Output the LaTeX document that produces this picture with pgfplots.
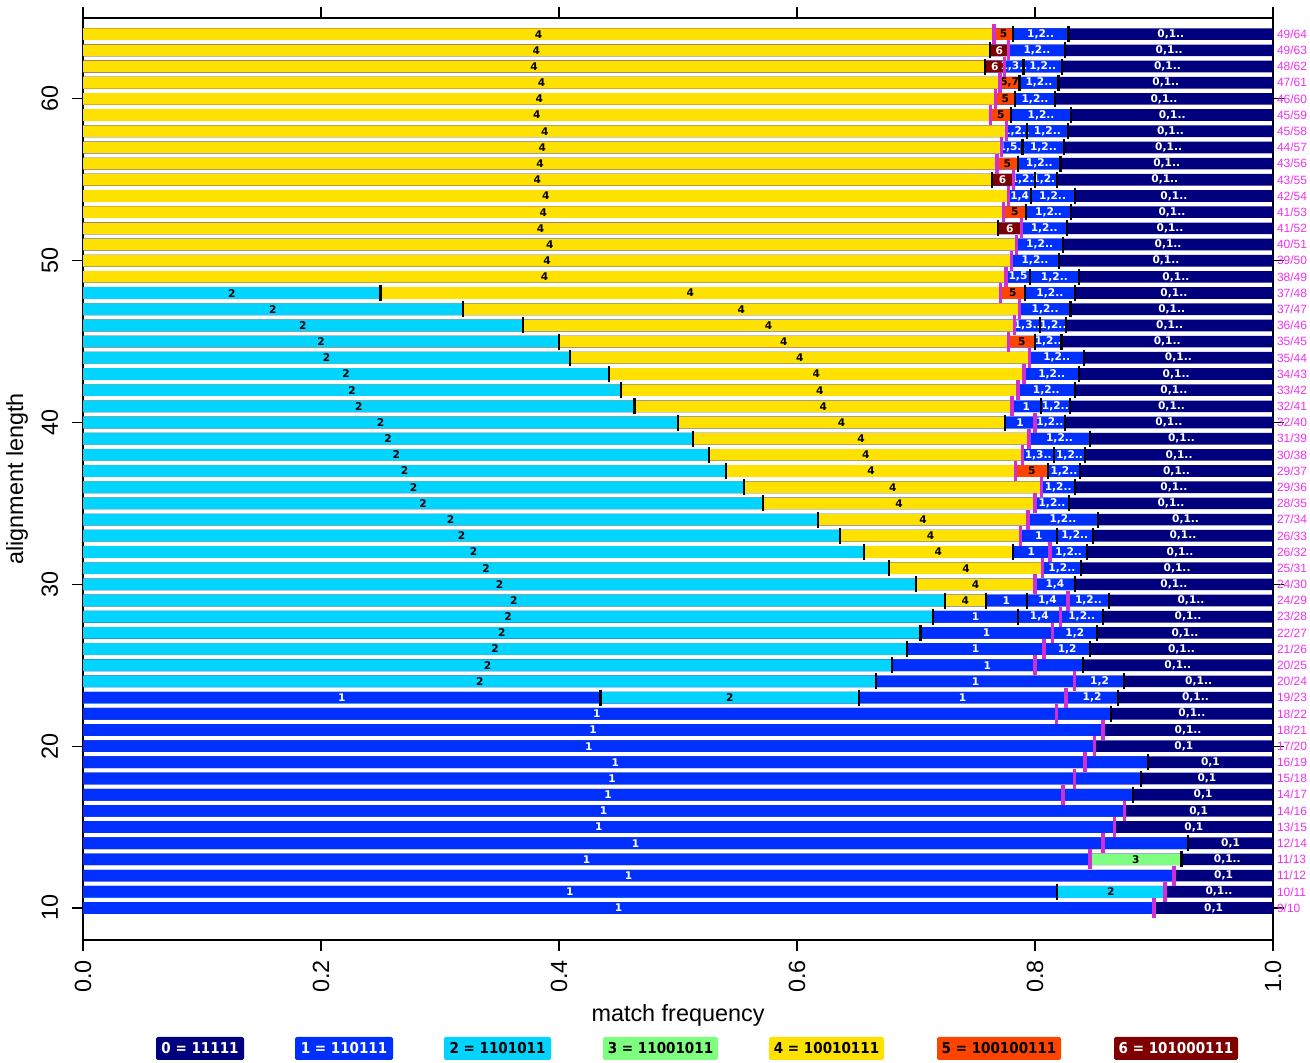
\documentclass[border=0pt]{standalone}
\usepackage{fontspec}
\setmainfont{Liberation Sans}
\newfontfamily\djb{DejaVu Sans}
\newfontfamily\djc[FakeStretch=0.9]{DejaVu Sans}
\usepackage{pgfplots}
\pgfplotsset{compat=1.18}
\definecolor{cN}{HTML}{00007F}
\definecolor{cB}{HTML}{0030FF}
\definecolor{cC}{HTML}{00D4FF}
\definecolor{cG}{HTML}{7FFF7F}
\definecolor{cY}{HTML}{FFE100}
\definecolor{cO}{HTML}{FF4400}
\definecolor{cD}{HTML}{7F0000}
\definecolor{cM}{HTML}{D22FD2}
\definecolor{cL}{HTML}{F030F0}
\pgfplotsset{
 seg/.style={xbar, bar width=0.72, bar shift=0pt, draw=none, fill=#1},
 lab/.style={draw=none, mark=none, nodes near coords, point meta=explicit symbolic,
   nodes near coords align={anchor=center},
   every node near coord/.append style={font=\djb\bfseries\fontsize{5.3}{6}\selectfont, text=#1, inner sep=0pt}},
}
\begin{document}
\begin{tikzpicture}
\path[use as bounding box] (-41.5pt,-61.5pt) rectangle (613.5pt,470pt);
\begin{axis}[
 scale only axis, width=595pt, height=461pt,
 xmin=0, xmax=1, ymin=8.02, ymax=65.0,
 clip=false,
 axis line style={line width=1pt},
 tick style={line width=0.6pt, black},
 tick align=outside, major tick length=5.3pt,
 xtick={0,0.2,0.4,0.6,0.8,1},
 xticklabels={0.0,0.2,0.4,0.6,0.8,1.0},
 ytick={10,20,30,40,50,60},
 yticklabels={10,20,30,40,50,60},
 xticklabel style={rotate=90, anchor=east, inner xsep=4.5pt, font=\fontsize{11.7}{14}\selectfont},
 yticklabel style={rotate=90, anchor=south, inner ysep=7pt, font=\fontsize{11.7}{14}\selectfont},
 xlabel={match frequency}, ylabel={alignment length},
 xlabel style={at={(axis description cs:0.5,-0.0813)}, anchor=center, font=\fontsize{11.7}{14}\selectfont},
 ylabel style={at={(axis description cs:-0.0555,0.5)}, anchor=center, font=\fontsize{11.7}{14}\selectfont},
]
% ---- bars (drawn longest first in each row) ----
\addplot[seg=cN] coordinates {(1,10) (1,11) (1,12) (1,13) (1,14) (1,15) (1,16) (1,17) (1,18) (1,19) (1,20) (1,21) (1,22) (1,23) (1,24) (1,25) (1,26) (1,27) (1,28) (1,29) (1,30) (1,31) (1,32) (1,33) (1,34) (1,35) (1,36) (1,37) (1,38) (1,39) (1,40) (1,41) (1,42) (1,43) (1,44) (1,45) (1,46) (1,47) (1,48) (1,49) (1,50) (1,51) (1,52) (1,53) (1,54) (1,55) (1,56) (1,57) (1,58) (1,59) (1,60) (1,61) (1,62) (1,63) (1,64)};
\addplot[seg=cG] coordinates {(0.9231,13)};
\addplot[seg=cC] coordinates {(0.9091,11)};
\addplot[seg=cB] coordinates {(0.8281,64) (0.8254,63) (0.8226,62) (0.8197,61) (0.8167,60) (0.8305,59) (0.8276,58) (0.8246,57) (0.8214,56) (0.8182,55) (0.8333,54) (0.8302,53) (0.8269,52) (0.8235,51) (0.82,50) (0.8367,49) (0.8333,48) (0.8298,47) (0.8261,46) (0.8222,45) (0.8409,44) (0.8372,43) (0.8333,42) (0.8293,41) (0.825,40) (0.8462,39) (0.8421,38) (0.8378,37) (0.8333,36) (0.8286,35) (0.8529,34) (0.8485,33) (0.8438,32) (0.8387,31) (0.8333,30) (0.8621,29) (0.8571,28) (0.8519,27) (0.8462,26) (0.84,25) (0.875,24) (0.8696,23) (0.8636,22) (0.8571,21) (0.85,20) (0.8947,19) (0.8889,18) (0.8824,17) (0.875,16) (0.8667,15) (0.9286,14) (0.8462,13) (0.9167,12) (0.8182,11) (0.9,10)};
\addplot[seg=cO] coordinates {(0.7813,64) (0.7869,61) (0.7833,60) (0.7797,59) (0.7857,56) (0.7925,53) (0.7917,48) (0.8,45) (0.8108,37)};
\addplot[seg=cD] coordinates {(0.7778,63) (0.7742,62) (0.7818,55) (0.7885,52)};
\addplot[seg=cY] coordinates {(0.7656,64) (0.7619,63) (0.7581,62) (0.7705,61) (0.7667,60) (0.7627,59) (0.7759,58) (0.7719,57) (0.7679,56) (0.7636,55) (0.7778,54) (0.7736,53) (0.7692,52) (0.7843,51) (0.78,50) (0.7755,49) (0.7708,48) (0.7872,47) (0.7826,46) (0.7778,45) (0.7955,44) (0.7907,43) (0.7857,42) (0.7805,41) (0.775,40) (0.7949,39) (0.7895,38) (0.7838,37) (0.8056,36) (0.8,35) (0.7941,34) (0.7879,33) (0.7813,32) (0.8065,31) (0.8,30) (0.7586,29)};
\addplot[seg=cC] coordinates {(0.25,48) (0.3191,47) (0.3696,46) (0.4,45) (0.4091,44) (0.4419,43) (0.4524,42) (0.4634,41) (0.5,40) (0.5128,39) (0.5263,38) (0.5405,37) (0.5556,36) (0.5714,35) (0.6176,34) (0.6364,33) (0.6563,32) (0.6774,31) (0.7,30) (0.7241,29) (0.7143,28) (0.7037,27) (0.6923,26) (0.68,25) (0.6667,24) (0.6522,23)};
\addplot[seg=cB] coordinates {(0.4348,23)};
% ---- segment labels ----
\addplot[lab=black] table[meta=l] {
x y l
0.3828 64 4
0.3810 63 4
0.3790 62 4
0.3853 61 4
0.3834 60 4
0.3814 59 4
0.3880 58 4
0.3860 57 4
0.3840 56 4
0.3818 55 4
0.3889 54 4
0.3868 53 4
0.3846 52 4
0.3922 51 4
0.3900 50 4
0.3878 49 4
0.5104 48 4
0.5532 47 4
0.5761 46 4
0.5889 45 4
0.6023 44 4
0.6163 43 4
0.6191 42 4
0.6220 41 4
0.6375 40 4
0.6539 39 4
0.6579 38 4
0.6622 37 4
0.6806 36 4
0.6857 35 4
0.7059 34 4
0.7122 33 4
0.7188 32 4
0.7420 31 4
0.7500 30 4
0.7414 29 4
0.1250 48 2
0.1596 47 2
0.1848 46 2
0.2000 45 2
0.2046 44 2
0.2210 43 2
0.2262 42 2
0.2317 41 2
0.2500 40 2
0.2564 39 2
0.2632 38 2
0.2703 37 2
0.2778 36 2
0.2857 35 2
0.3088 34 2
0.3182 33 2
0.3282 32 2
0.3387 31 2
0.3500 30 2
0.3621 29 2
0.3572 28 2
0.3519 27 2
0.3462 26 2
0.3400 25 2
0.3334 24 2
0.5435 23 2
0.8637 11 2
0.7735 64 5
0.7787 61 5,7
0.7750 60 5
0.7712 59 5
0.7768 56 5
0.7831 53 5
0.7813 48 5
0.7889 45 5
0.7973 37 5
0.8847 13 3
};
\addplot[lab=white] table[meta=l] {
x y l
0.7699 63 6
0.7662 62 6
0.7727 55 6
0.7789 52 6
0.8047 64 1,2..
0.8016 63 1,2..
0.7823 62 1,3..
0.8065 62 1,2..
0.8033 61 1,2..
0.8000 60 1,2..
0.8051 59 1,2..
0.7845 58 1,2..
0.8104 58 1,2..
0.7807 57 1,5..
0.8071 57 1,2..
0.8036 56 1,2..
0.7909 55 1,2..
0.8091 55 1,2..
0.7871 54 1,4
0.8148 54 1,2..
0.8114 53 1,2..
0.8077 52 1,2..
0.8039 51 1,2..
0.8000 50 1,2..
0.7857 49 1,5
0.8163 49 1,2..
0.8125 48 1,2..
0.8085 47 1,2..
0.7935 46 1,3..
0.8152 46 1,2..
0.8111 45 1,2..
0.8182 44 1,2..
0.8140 43 1,2..
0.8095 42 1,2..
0.7927 41 1
0.8171 41 1,2..
0.7875 40 1
0.8125 40 1,2..
0.8206 39 1,2..
0.8027 38 1,3..
0.8290 38 1,2..
0.8243 37 1,2..
0.8195 36 1,2..
0.8143 35 1,2..
0.8235 34 1,2..
0.8031 33 1
0.8334 33 1,2..
0.7969 32 1
0.8282 32 1,2..
0.8226 31 1,2..
0.8167 30 1,4
0.7759 29 1
0.8104 29 1,4
0.8449 29 1,2..
0.7500 28 1
0.8036 28 1,4
0.8393 28 1,2..
0.7593 27 1
0.8334 27 1,2
0.7500 26 1
0.8270 26 1,2
0.7600 25 1
0.7500 24 1
0.8542 24 1,2
0.2174 23 1
0.7392 23 1
0.8479 23 1,2
0.4318 22 1
0.4286 21 1
0.4250 20 1
0.4474 19 1
0.4445 18 1
0.4412 17 1
0.4375 16 1
0.4334 15 1
0.4643 14 1
0.4231 13 1
0.4584 12 1
0.4091 11 1
0.4500 10 1
0.9141 64 0,1..
0.9127 63 0,1..
0.9113 62 0,1..
0.9099 61 0,1..
0.9084 60 0,1..
0.9153 59 0,1..
0.9138 58 0,1..
0.9123 57 0,1..
0.9107 56 0,1..
0.9091 55 0,1..
0.9167 54 0,1..
0.9151 53 0,1..
0.9135 52 0,1..
0.9118 51 0,1..
0.9100 50 0,1..
0.9184 49 0,1..
0.9167 48 0,1..
0.9149 47 0,1..
0.9131 46 0,1..
0.9111 45 0,1..
0.9205 44 0,1..
0.9186 43 0,1..
0.9167 42 0,1..
0.9147 41 0,1..
0.9125 40 0,1..
0.9231 39 0,1..
0.9211 38 0,1..
0.9189 37 0,1..
0.9167 36 0,1..
0.9143 35 0,1..
0.9265 34 0,1..
0.9243 33 0,1..
0.9219 32 0,1..
0.9194 31 0,1..
0.9167 30 0,1..
0.9311 29 0,1..
0.9286 28 0,1..
0.9260 27 0,1..
0.9231 26 0,1..
0.9200 25 0,1..
0.9375 24 0,1..
0.9348 23 0,1..
0.9318 22 0,1..
0.9286 21 0,1..
0.9250 20 0,1
0.9474 19 0,1
0.9445 18 0,1
0.9412 17 0,1
0.9375 16 0,1
0.9334 15 0,1
0.9643 14 0,1
0.9616 13 0,1..
0.9584 12 0,1
0.9546 11 0,1..
0.9500 10 0,1
};
% ---- black boundary ticks ----
\addplot[only marks, mark=|, mark size=4pt, mark options={line width=1.1pt, black}] coordinates {
(0.7656,64) (0.7813,64) (0.8281,64)
(0.7619,63) (0.7778,63) (0.8254,63)
(0.7581,62) (0.7742,62) (0.7903,62) (0.8226,62)
(0.7705,61) (0.7869,61) (0.8197,61)
(0.7667,60) (0.7833,60) (0.8167,60)
(0.7627,59) (0.7797,59) (0.8305,59)
(0.7759,58) (0.7931,58) (0.8276,58)
(0.7719,57) (0.7895,57) (0.8246,57)
(0.7679,56) (0.7857,56) (0.8214,56)
(0.7636,55) (0.7818,55) (0.8,55) (0.8182,55)
(0.7778,54) (0.7963,54) (0.8333,54)
(0.7736,53) (0.7925,53) (0.8302,53)
(0.7692,52) (0.7885,52) (0.8269,52)
(0.7843,51) (0.8235,51)
(0.78,50) (0.82,50)
(0.7755,49) (0.7959,49) (0.8367,49)
(0.25,48) (0.7708,48) (0.7917,48) (0.8333,48)
(0.3191,47) (0.7872,47) (0.8298,47)
(0.3696,46) (0.7826,46) (0.8043,46) (0.8261,46)
(0.4,45) (0.7778,45) (0.8,45) (0.8222,45)
(0.4091,44) (0.7955,44) (0.8409,44)
(0.4419,43) (0.7907,43) (0.8372,43)
(0.4524,42) (0.7857,42) (0.8333,42)
(0.4634,41) (0.7805,41) (0.8049,41) (0.8293,41)
(0.5,40) (0.775,40) (0.8,40) (0.825,40)
(0.5128,39) (0.7949,39) (0.8462,39)
(0.5263,38) (0.7895,38) (0.8158,38) (0.8421,38)
(0.5405,37) (0.7838,37) (0.8108,37) (0.8378,37)
(0.5556,36) (0.8056,36) (0.8333,36)
(0.5714,35) (0.8,35) (0.8286,35)
(0.6176,34) (0.7941,34) (0.8529,34)
(0.6364,33) (0.7879,33) (0.8182,33) (0.8485,33)
(0.6563,32) (0.7813,32) (0.8125,32) (0.8438,32)
(0.6774,31) (0.8065,31) (0.8387,31)
(0.7,30) (0.8,30) (0.8333,30)
(0.7241,29) (0.7586,29) (0.7931,29) (0.8276,29) (0.8621,29)
(0.7143,28) (0.7857,28) (0.8214,28) (0.8571,28)
(0.7037,27) (0.8148,27) (0.8519,27)
(0.6923,26) (0.8077,26) (0.8462,26)
(0.68,25) (0.84,25)
(0.6667,24) (0.8333,24) (0.875,24)
(0.4348,23) (0.6522,23) (0.8261,23) (0.8696,23)
(0.8636,22) (0.8571,21) (0.85,20) (0.8947,19) (0.8889,18) (0.8824,17)
(0.875,16) (0.8667,15) (0.9286,14)
(0.8462,13) (0.9231,13)
(0.9167,12)
(0.8182,11) (0.9091,11)
(0.9,10)
};
% ---- magenta ratio ticks ----
\addplot[only marks, mark=|, mark size=5pt, mark options={line width=1.7pt, cM}] coordinates {
(0.7656,64) (0.7778,63) (0.7742,62) (0.7705,61) (0.7667,60) (0.7627,59) (0.7759,58) (0.7719,57) (0.7679,56) (0.7818,55)
(0.7778,54) (0.7736,53) (0.7885,52) (0.7843,51) (0.78,50) (0.7755,49) (0.7708,48) (0.7872,47) (0.7826,46) (0.7778,45)
(0.7955,44) (0.7907,43) (0.7857,42) (0.7805,41) (0.8,40) (0.7949,39) (0.7895,38) (0.7838,37) (0.8056,36) (0.8,35)
(0.7941,34) (0.7879,33) (0.8125,32) (0.8065,31) (0.8,30) (0.8276,29) (0.8214,28) (0.8148,27) (0.8077,26) (0.8,25)
(0.8333,24) (0.8261,23) (0.8182,22) (0.8571,21) (0.85,20) (0.8421,19) (0.8333,18) (0.8235,17) (0.875,16) (0.8667,15)
(0.8571,14) (0.8462,13) (0.9167,12) (0.9091,11) (0.9,10)
};
% ---- right-hand ratio labels ----
\addplot[draw=none, mark=none, nodes near coords, point meta=explicit symbolic,
  nodes near coords align={anchor=west},
  every node near coord/.append style={font=\fontsize{6}{7}\selectfont, text=cL, inner sep=0pt, xshift=1.8pt}]
 table[meta=l] {
x y l
1 64 49/64
1 63 49/63
1 62 48/62
1 61 47/61
1 60 46/60
1 59 45/59
1 58 45/58
1 57 44/57
1 56 43/56
1 55 43/55
1 54 42/54
1 53 41/53
1 52 41/52
1 51 40/51
1 50 39/50
1 49 38/49
1 48 37/48
1 47 37/47
1 46 36/46
1 45 35/45
1 44 35/44
1 43 34/43
1 42 33/42
1 41 32/41
1 40 32/40
1 39 31/39
1 38 30/38
1 37 29/37
1 36 29/36
1 35 28/35
1 34 27/34
1 33 26/33
1 32 26/32
1 31 25/31
1 30 24/30
1 29 24/29
1 28 23/28
1 27 22/27
1 26 21/26
1 25 20/25
1 24 20/24
1 23 19/23
1 22 18/22
1 21 18/21
1 20 17/20
1 19 16/19
1 18 15/18
1 17 14/17
1 16 14/16
1 15 13/15
1 14 12/14
1 13 11/13
1 12 11/12
1 11 10/11
1 10 9/10
};
\end{axis}
\begin{scope}[every node/.style={inner sep=0pt, minimum height=11.5pt, rounded corners=0.8pt, font=\djc\bfseries\fontsize{7.5}{8}\selectfont}]
\node[fill=cN, text=white, minimum width=44pt] at (58.5pt,-54.25pt) {0 = 11111};
\node[fill=cB, text=white, minimum width=49pt] at (130.5pt,-54.25pt) {1 = 110111};
\node[fill=cC, text=black, minimum width=53.5pt] at (207.25pt,-54.25pt) {2 = 1101011};
\node[fill=cG, text=black, minimum width=57.5pt] at (288.75pt,-54.25pt) {3 = 11001011};
\node[fill=cY, text=black, minimum width=57.5pt] at (371.75pt,-54.25pt) {4 = 10010111};
\node[fill=cO, text=black, minimum width=62pt] at (458pt,-54.25pt) {5 = 100100111};
\node[fill=cD, text=white, minimum width=62pt] at (546.5pt,-54.25pt) {6 = 101000111};
\end{scope}
\end{tikzpicture}
\end{document}
